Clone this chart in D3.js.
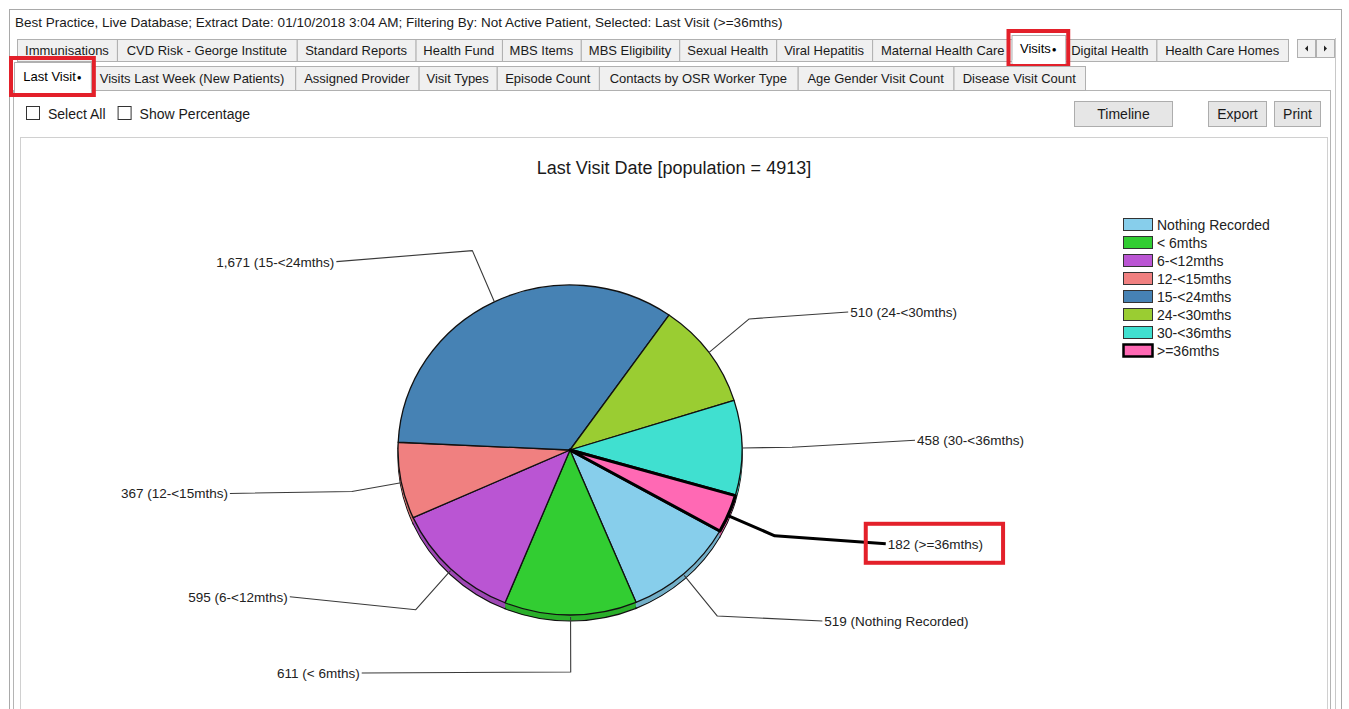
<!DOCTYPE html>
<html><head><meta charset="utf-8">
<script src="https://cdn.jsdelivr.net/npm/d3@7"></script>
<style>
html,body{margin:0;padding:0;background:#fff;overflow:hidden}
svg{display:block;font-family:"Liberation Sans",Arial,sans-serif}
</style></head><body>
<svg id="c" width="1349" height="709"></svg>
<script>
// ---------------- data ----------------
const headerText = "Best Practice, Live Database; Extract Date: 01/10/2018 3:04 AM; Filtering By: Not Active Patient, Selected: Last Visit (>=36mths)";
const tabsRow1 = ["Immunisations","CVD Risk - George Institute","Standard Reports","Health Fund","MBS Items","MBS Eligibility","Sexual Health","Viral Hepatitis","Maternal Health Care","Visits●","Digital Health","Health Care Homes"];
const tabsRow2 = ["Last Visit●","Visits Last Week (New Patients)","Assigned Provider","Visit Types","Episode Count","Contacts by OSR Worker Type","Age Gender Visit Count","Disease Visit Count"];
const selectedTab1 = "Visits●";
const selectedTab2 = "Last Visit●";
const checkboxes = ["Select All","Show Percentage"];
const buttons = ["Timeline","Export","Print"];
const chartTitle = "Last Visit Date [population = 4913]";
const categories = ["Nothing Recorded","< 6mths","6-<12mths","12-<15mths","15-<24mths","24-<30mths","30-<36mths",">=36mths"];
const counts = [519,611,595,367,1671,510,458,182];
const sliceColors = ["#87ceeb","#32cd32","#ba55d3","#f08080","#4682b4","#9acd32","#40e0d0","#ff69b4"];
const selectedCategory = ">=36mths";

// ---------------- layout ----------------
const W = 1349, H = 709;
const FONT = 13;
const tabRow1 = {x0:17, x1:1288, y:39, h:22};
const tabRow2 = {x0:16, x1:1085, y:66, h:24};
const buttonBoxes = [{x:1074,w:98},{x:1208,w:58},{x:1274,w:46}];
const pieGeom = {cx:570, cy:450, rx:172, ry:165, depth:6, startDeg:119.4, elbowR:222};
// signed horizontal arm lengths (negative = label on the left) and vertical nudges for leader ends
const labelArm = [105,-209,-126,-122,-136,99,123,111];
const labelNudge = [5,1,-13,2,11,-7,-7,8];
const legendBox = {x:1123, y:225, step:18};
const RED = "#e3202a";

const svg = d3.select("#c");
svg.append("rect").attr("width",W).attr("height",H).attr("fill","#fff");

// outer window
svg.append("rect").attr("x",9.5).attr("y",9.5).attr("width",1332).attr("height",720)
  .attr("fill","#fff").attr("stroke","#a9a9a9");
svg.append("text").attr("x",15).attr("y",27).attr("font-size",13.5).attr("fill","#1a1a1a").text(headerText);

// tab page panel
svg.append("rect").attr("x",13.5).attr("y",90.5).attr("width",1317).attr("height",640)
  .attr("fill","#fff").attr("stroke","#b4b4b4");
svg.append("line").attr("x1",1335.5).attr("x2",1335.5).attr("y1",38).attr("y2",709).attr("stroke","#c8c8c8");

function tabLabel(sel, label){
  if(label.endsWith("●")){
    sel.text(label.slice(0,-1));
    sel.append("tspan").attr("font-size",8).attr("dx",1).attr("dy",-1).text("●");
  } else sel.text(label);
}
function drawTabs(labels, row, selected){
  const g = svg.append("g");
  const meas = labels.map(l=>{
    const t = g.append("text").attr("font-size",FONT);
    tabLabel(t,l);
    const w = t.node().getComputedTextLength();
    t.remove();
    return w + 12;
  });
  const k = (row.x1-row.x0)/d3.sum(meas);
  let x = row.x0;
  const boxes = [];
  labels.forEach((l,i)=>{
    const w = meas[i]*k;
    boxes.push({l, x, w});
    x += w;
  });
  let selBox = null;
  boxes.forEach(b=>{
    if(b.l===selected){selBox=b;return;}
    g.append("rect").attr("x",b.x+0.5).attr("y",row.y+0.5).attr("width",b.w).attr("height",row.h)
      .attr("fill","#f0f0f0").attr("stroke","#b0b0b0");
    const t = g.append("text").attr("x",b.x+b.w/2).attr("y",row.y+row.h/2+4.5)
      .attr("text-anchor","middle").attr("font-size",FONT).attr("fill","#1a1a1a");
    tabLabel(t,b.l);
  });
  if(selBox){
    g.append("rect").attr("x",selBox.x+0.5-2).attr("y",row.y+0.5-4).attr("width",selBox.w+4).attr("height",row.h+6)
      .attr("fill","#fff").attr("stroke","#b0b0b0");
    g.append("rect").attr("x",selBox.x-1).attr("y",row.y+row.h-1).attr("width",selBox.w+3).attr("height",4).attr("fill","#fff");
    const t = g.append("text").attr("x",selBox.x+selBox.w/2).attr("y",row.y+row.h/2+3)
      .attr("text-anchor","middle").attr("font-size",FONT).attr("fill","#000");
    tabLabel(t,selBox.l);
    g.append("rect").attr("x",selBox.x-5).attr("y",row.y-8).attr("width",selBox.w+10).attr("height",row.h+13)
      .attr("fill","none").attr("stroke",RED).attr("stroke-width",4);
  }
  return boxes;
}
drawTabs(tabsRow1, tabRow1, selectedTab1);
// scroll arrows
[0,1].forEach(i=>{
  const x = 1297 + i*19;
  svg.append("rect").attr("x",x+0.5).attr("y",39.5).attr("width",18).attr("height",18).attr("fill","#f0f0f0").attr("stroke","#b0b0b0");
  const cx = x+9.5, cy = 48.5;
  svg.append("path").attr("d", i===0 ? `M${cx+1.5},${cy-3}L${cx-1.5},${cy}L${cx+1.5},${cy+3}Z` : `M${cx-1.5},${cy-3}L${cx+1.5},${cy}L${cx-1.5},${cy+3}Z`).attr("fill","#222");
});
drawTabs(tabsRow2, tabRow2, selectedTab2);

// checkboxes
let cbx = 26;
checkboxes.forEach((c,i)=>{
  svg.append("rect").attr("x",cbx+0.5).attr("y",106.5).attr("width",13).attr("height",13).attr("fill","#fff").attr("stroke","#333");
  const t = svg.append("text").attr("x",cbx+22).attr("y",119).attr("font-size",14).attr("fill","#1a1a1a").text(c);
  cbx += 22 + t.node().getComputedTextLength() + 12;
});
// buttons
buttons.forEach((b,i)=>{
  const bb = buttonBoxes[i];
  svg.append("rect").attr("x",bb.x+0.5).attr("y",101.5).attr("width",bb.w).attr("height",25).attr("fill","#e6e6e6").attr("stroke","#adadad");
  svg.append("text").attr("x",bb.x+bb.w/2+0.5).attr("y",119).attr("text-anchor","middle").attr("font-size",14).attr("fill","#1a1a1a").text(b);
});

// chart panel
svg.append("rect").attr("x",20.5).attr("y",137.5).attr("width",1307).attr("height",600).attr("fill","#fff").attr("stroke","#d0d0d0");
svg.append("text").attr("x",674).attr("y",174).attr("text-anchor","middle").attr("font-size",18).attr("fill","#1a1a1a").text(chartTitle);

// ---------------- pie ----------------
const data = categories.map((c,i)=>({cat:c, value:counts[i]}));
const color = d3.scaleOrdinal().domain(categories).range(sliceColors);
const a0 = pieGeom.startDeg*Math.PI/180;
const pie = d3.pie().sort(null).value(d=>d.value).startAngle(a0).endAngle(a0+2*Math.PI);
const arcs = pie(data);
const arc = d3.arc().innerRadius(0).outerRadius(pieGeom.rx);
const kY = pieGeom.ry/pieGeom.rx;

// depth (side band)
for(let o=pieGeom.depth; o>=1; o--){
  const g = svg.append("g").attr("transform",`translate(${pieGeom.cx},${pieGeom.cy+o}) scale(1,${kY})`);
  g.selectAll("path").data(arcs).join("path").attr("d",arc)
    .attr("fill",d=>d3.color(color(d.data.cat)).darker(0.45))
    .attr("stroke", o===pieGeom.depth ? "#111" : "none")
    .attr("stroke-width",1.2).attr("vector-effect","non-scaling-stroke");
}
const gTop = svg.append("g").attr("transform",`translate(${pieGeom.cx},${pieGeom.cy}) scale(1,${kY})`);
gTop.selectAll("path").data(arcs).join("path").attr("d",arc)
  .attr("fill",d=>color(d.data.cat))
  .attr("stroke","#111")
  .attr("stroke-width",d=>d.data.cat===selectedCategory?3:1.3)
  .attr("stroke-linejoin","round")
  .attr("vector-effect","non-scaling-stroke");
gTop.selectAll("path.sel").data(arcs.filter(d=>d.data.cat===selectedCategory)).join("path").attr("class","sel").attr("d",arc)
  .attr("fill",d=>color(d.data.cat)).attr("stroke","#000").attr("stroke-width",3)
  .attr("stroke-linejoin","round").attr("vector-effect","non-scaling-stroke");

// leader lines + labels
const fmt = d3.format(",");
const line = d3.line();
const gl = svg.append("g");
arcs.forEach((d,i)=>{
  const mid = (d.startAngle+d.endAngle)/2;
  const sx = pieGeom.cx + pieGeom.rx*Math.sin(mid);
  const sy = pieGeom.cy - pieGeom.ry*Math.cos(mid) + (Math.cos(mid)<0 ? 2 : 0);
  const ex = pieGeom.cx + pieGeom.elbowR*Math.sin(mid);
  const ey = pieGeom.cy - pieGeom.elbowR*Math.cos(mid);
  const lx = ex + labelArm[i];
  const ly = ey + labelNudge[i];
  const sel = d.data.cat===selectedCategory;
  gl.append("path").attr("d",line([[sx,sy],[ex,ey],[lx,ly]])).attr("fill","none")
    .attr("stroke", sel?"#000":"#3a3a3a").attr("stroke-width", sel?3:1.1).attr("stroke-linejoin","round");
  const right = labelArm[i]>0;
  const t = gl.append("text").attr("x", lx + (right?2:-2)).attr("y", ly+5)
    .attr("text-anchor", right?"start":"end").attr("font-size",13.5).attr("fill","#222")
    .text(`${fmt(d.data.value)} (${d.data.cat})`);
  if(sel){
    const bb = t.node().getBBox();
    gl.append("rect").attr("x",bb.x-22).attr("y",bb.y-13).attr("width",bb.width+42).attr("height",bb.height+24)
      .attr("fill","none").attr("stroke",RED).attr("stroke-width",4);
  }
});

// legend
const lg = svg.append("g").attr("transform",`translate(${legendBox.x},${legendBox.y})`);
categories.forEach((c,i)=>{
  const y = i*legendBox.step;
  const sel = c===selectedCategory;
  lg.append("rect").attr("x",0.5).attr("y",y-6.5).attr("width",29).attr("height",12)
    .attr("fill",color(c)).attr("stroke", sel?"#000":"#333").attr("stroke-width", sel?2.5:1);
  lg.append("text").attr("x",34).attr("y",y+5).attr("font-size",14).attr("fill","#222").text(c);
});
</script>
</body></html>
